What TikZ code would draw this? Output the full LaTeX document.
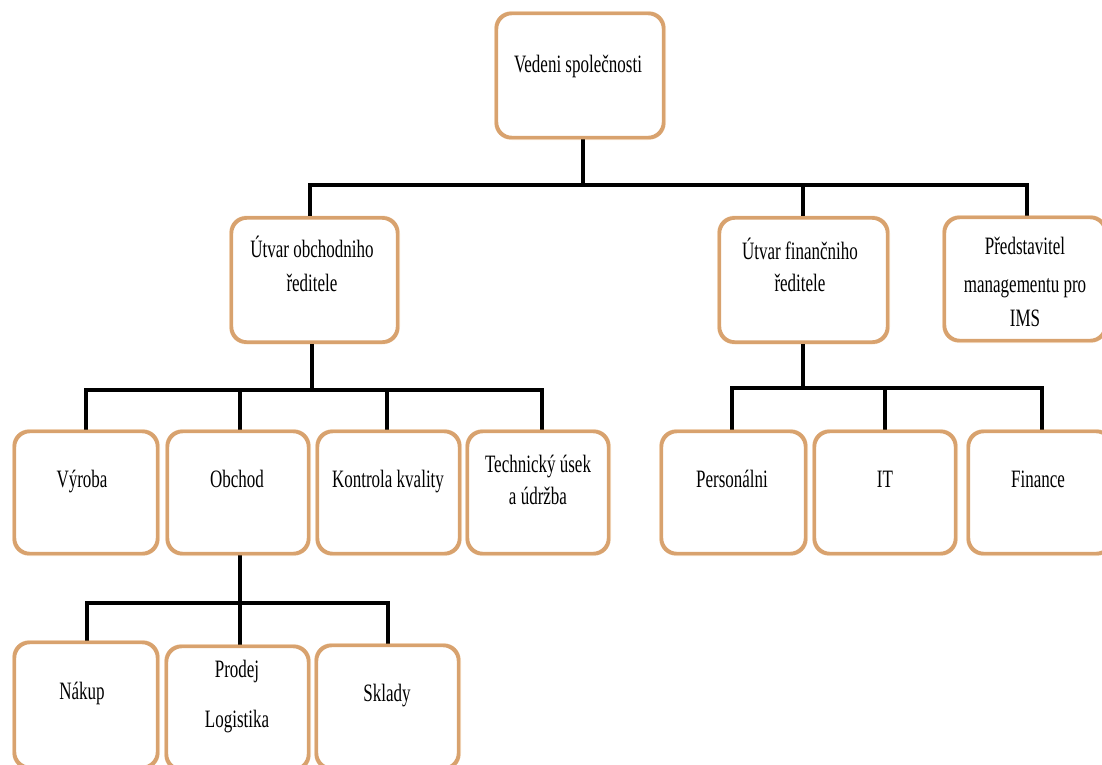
\documentclass[tikz,border=0pt]{standalone}
\usepackage{fontspec}
\newfontfamily\lblfont{Liberation Serif}[FakeStretch=0.68]
\definecolor{boxor}{RGB}{216,162,110}
\definecolor{boxglow}{RGB}{250,232,212}
\tikzset{
  orgbox/.style={rectangle, rounded corners=15pt, draw=boxor, line width=2.4pt, fill=white,
     preaction={draw=boxglow, line width=6pt}, inner sep=0pt},
  conn/.style={draw=black, line width=4pt, line join=miter},
  lbl/.style={anchor=base, inner sep=0pt, font=\lblfont\fontsize{25}{30}\selectfont}
}
\begin{document}
\begin{tikzpicture}[x=1pt,y=-1pt]
\useasboundingbox[fill=white] (0,0) rectangle (1102,764);
% junction coordinates
\coordinate (b1T) at (583,185);
\coordinate (b1L) at (310,185);
\coordinate (b1M) at (803,185);
\coordinate (b1R) at (1027,185);
\coordinate (b2T) at (312,390);
\coordinate (b2a) at (86,390);
\coordinate (b2b) at (240,390);
\coordinate (b2c) at (387,390);
\coordinate (b2d) at (542,390);
\coordinate (b3T) at (803,388);
\coordinate (b3a) at (732,388);
\coordinate (b3b) at (885,388);
\coordinate (b3c) at (1042,388);
\coordinate (b4T) at (240,603);
\coordinate (b4a) at (87,603);
\coordinate (b4b) at (240,603);
\coordinate (b4c) at (388,603);
% boxes
\path
  (580,75.5) node[orgbox, minimum width=166pt, minimum height=123pt] (top) {}
  (314.5,280) node[orgbox, minimum width=165pt, minimum height=123pt] (uo) {}
  (803.5,280) node[orgbox, minimum width=167pt, minimum height=123pt] (uf) {}
  (1025,279) node[orgbox, minimum width=160pt, minimum height=122pt] (pm) {}
  (86,492.5) node[orgbox, minimum width=142pt, minimum height=121pt] (vy) {}
  (238,492.5) node[orgbox, minimum width=140pt, minimum height=121pt] (ob) {}
  (388.5,492.5) node[orgbox, minimum width=141pt, minimum height=121pt] (kk) {}
  (538,492.5) node[orgbox, minimum width=140pt, minimum height=121pt] (tu) {}
  (733.5,492.5) node[orgbox, minimum width=143pt, minimum height=121pt] (pe) {}
  (885,492.5) node[orgbox, minimum width=140pt, minimum height=121pt] (it) {}
  (1040,492.5) node[orgbox, minimum width=142pt, minimum height=121pt] (fi) {}
  (86,705) node[orgbox, minimum width=142pt, minimum height=124pt] (na) {}
  (237.5,708) node[orgbox, minimum width=141pt, minimum height=122pt] (pr) {}
  (387.5,707) node[orgbox, minimum width=141pt, minimum height=122pt] (sk) {};
% connectors
\draw[conn] (top.south -| b1T) -- (b1T);
\draw[conn] (uo.north -| b1L) -- (b1L) -- (b1R) -- (pm.north -| b1R);
\draw[conn] (b1M) -- (uf.north -| b1M);
\draw[conn] (uo.south -| b2T) -- (b2T);
\draw[conn] (vy.north -| b2a) -- (b2a) -- (b2d) -- (tu.north -| b2d);
\draw[conn] (b2b) -- (ob.north -| b2b);
\draw[conn] (b2c) -- (kk.north -| b2c);
\draw[conn] (uf.south -| b3T) -- (b3T);
\draw[conn] (pe.north -| b3a) -- (b3a) -- (b3c) -- (fi.north -| b3c);
\draw[conn] (b3b) -- (it.north -| b3b);
\draw[conn] (ob.south -| b4T) -- (b4T);
\draw[conn] (na.north -| b4a) -- (b4a) -- (b4c) -- (sk.north -| b4c);
\draw[conn] (b4b) -- (pr.north -| b4b);
% redraw box borders over connector ends
\foreach \n in {top,uo,uf,pm,vy,ob,kk,tu,pe,it,fi,na,pr,sk}{
  \draw[boxor, line width=2.4pt, rounded corners=15pt] (\n.north west) rectangle (\n.south east);
}
% labels
\node[lbl] (topT) at (578,72) {Vedeni společnosti};
\node[lbl] (uoT1) at (312,257) {Útvar obchodniho};
\node[lbl] (uoT2) at (312,291) {ředitele};
\node[lbl] (ufT1) at (800,259) {Útvar finančniho};
\node[lbl] (ufT2) at (800,291) {ředitele};
\node[lbl] (pmT1) at (1025,254) {Představitel};
\node[lbl] (pmT2) at (1025,292) {managementu pro};
\node[lbl] (pmT3) at (1025,326) {IMS};
\node[lbl] (vyT) at (82,487) {Výroba};
\node[lbl] (obT) at (237,487) {Obchod};
\node[lbl] (kkT) at (388,487) {Kontrola kvality};
\node[lbl] (tuT1) at (538,472) {Technický úsek};
\node[lbl] (tuT2) at (538,504) {a údržba};
\node[lbl] (peT) at (732,487) {Personálni};
\node[lbl] (itT) at (885,487) {IT};
\node[lbl] (fiT) at (1038,487) {Finance};
\node[lbl] (naT) at (82,699) {Nákup};
\node[lbl] (prT1) at (237,677) {Prodej};
\node[lbl] (prT2) at (237,727) {Logistika};
\node[lbl] (skT) at (387,701) {Sklady};
\end{tikzpicture}
\end{document}
